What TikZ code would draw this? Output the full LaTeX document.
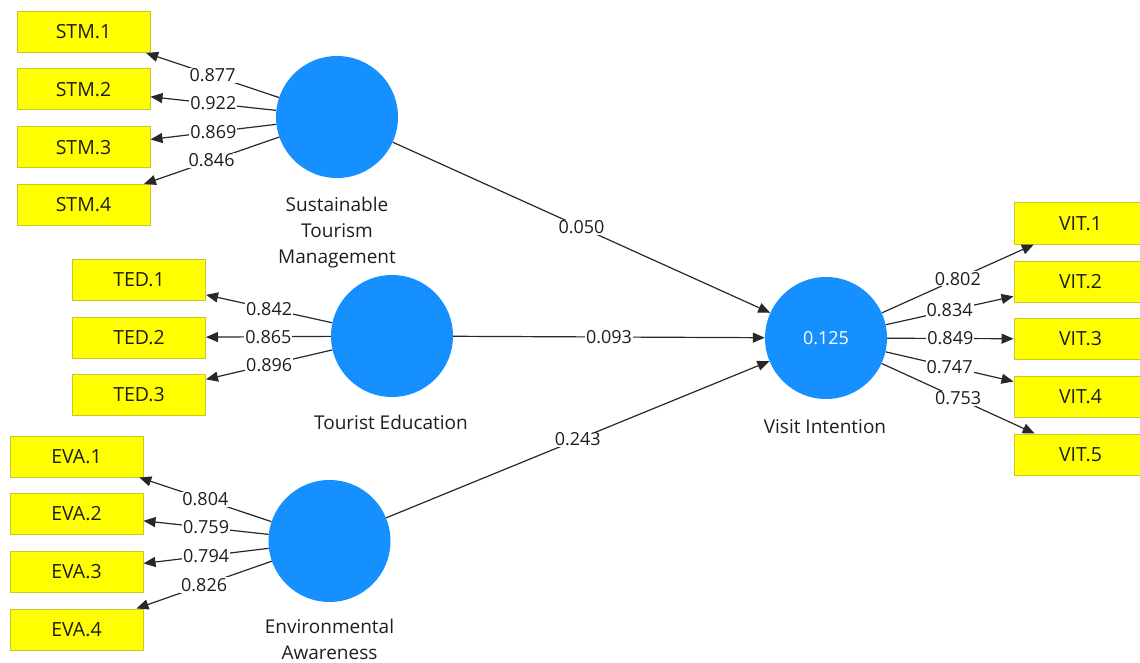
\documentclass[tikz,border=0pt]{standalone}
\usepackage{fontspec}
\setmainfont{Open Sans}
\usetikzlibrary{arrows.meta}
\definecolor{lvblue}{RGB}{23,144,255}
\definecolor{boxyellow}{RGB}{255,255,0}
\definecolor{boxedge}{RGB}{200,200,40}
\definecolor{txt}{RGB}{30,30,30}
\definecolor{linec}{RGB}{40,40,40}
\tikzset{
  ind/.style={draw=boxedge, line width=1pt, fill=boxyellow, minimum width=133pt, minimum height=41pt, inner sep=0pt, font=\fontsize{19.5}{22}\selectfont, text=txt},
  lv/.style={circle, fill=lvblue, minimum size=122pt, inner sep=0pt, font=\fontsize{18}{20}\selectfont, text=white},
  lvlabel/.style={anchor=north, align=center, font=\fontsize{19}{26}\selectfont, text=txt, inner sep=0pt},
  conn/.style={draw=linec, line width=1.2pt, -{Triangle[length=12pt,width=10pt]}},
  wt/.style={fill=white, inner sep=1pt, font=\fontsize{18}{20}\selectfont, text=txt, pos=0.5},
}
\begin{document}
\begin{tikzpicture}[x=1pt,y=-1pt]
\useasboundingbox (0,0) rectangle (1140,663);
\clip (0,0) rectangle (1140,663);
% latent variables
\node[lv] (stm) at (337,117) {};
\node[lv] (ted) at (392,336) {};
\node[lv] (eva) at (329.5,541) {};
\node[lv] (vit) at (826,338) {0.125};
% labels
\node[lvlabel] (stml) at (337,197) {Sustainable\\Tourism\\Management};
\node[lvlabel] (tedl) at (391,415) {Tourist Education};
\node[lvlabel] (eval) at (329.5,619) {Environmental\\Awareness};
\node[lvlabel] (vitl) at (825,419) {Visit Intention};
% indicators
\node[ind] (stm1) at (83.5,32) {STM.1};
\node[ind] (stm2) at (83.5,89.5) {STM.2};
\node[ind] (stm3) at (83.5,147.5) {STM.3};
\node[ind] (stm4) at (83.5,205) {STM.4};
\node[ind] (ted1) at (139,280) {TED.1};
\node[ind] (ted2) at (139,337.5) {TED.2};
\node[ind] (ted3) at (139,395) {TED.3};
\node[ind] (eva1) at (76.5,456.5) {EVA.1};
\node[ind] (eva2) at (76.5,513.5) {EVA.2};
\node[ind] (eva3) at (76.5,571.5) {EVA.3};
\node[ind] (eva4) at (76.5,629.5) {EVA.4};
\node[ind] (vit1) at (1080.5,223.5) {VIT.1};
\node[ind] (vit2) at (1080.5,281.5) {VIT.2};
\node[ind] (vit3) at (1080.5,339) {VIT.3};
\node[ind] (vit4) at (1080.5,397) {VIT.4};
\node[ind] (vit5) at (1080.5,454.5) {VIT.5};
% outer loadings
\draw[conn] (stm) -- node[wt] {0.877} (stm1);
\draw[conn] (stm) -- node[wt] {0.922} (stm2);
\draw[conn] (stm) -- node[wt] {0.869} (stm3);
\draw[conn] (stm) -- node[wt] {0.846} (stm4);
\draw[conn] (ted) -- node[wt] {0.842} (ted1);
\draw[conn] (ted) -- node[wt] {0.865} (ted2);
\draw[conn] (ted) -- node[wt] {0.896} (ted3);
\draw[conn] (eva) -- node[wt] {0.804} (eva1);
\draw[conn] (eva) -- node[wt] {0.759} (eva2);
\draw[conn] (eva) -- node[wt] {0.794} (eva3);
\draw[conn] (eva) -- node[wt] {0.826} (eva4);
\draw[conn] (vit) -- node[wt] {0.802} (vit1);
\draw[conn] (vit) -- node[wt] {0.834} (vit2);
\draw[conn] (vit) -- node[wt] {0.849} (vit3);
\draw[conn] (vit) -- node[wt] {0.747} (vit4);
\draw[conn] (vit) -- node[wt] {0.753} (vit5);
% path coefficients
\draw[conn] (stm) -- node[wt] {0.050} (vit);
\draw[conn] (ted) -- node[wt] {0.093} (vit);
\draw[conn] (eva) -- node[wt] {0.243} (vit);
\end{tikzpicture}
\end{document}
